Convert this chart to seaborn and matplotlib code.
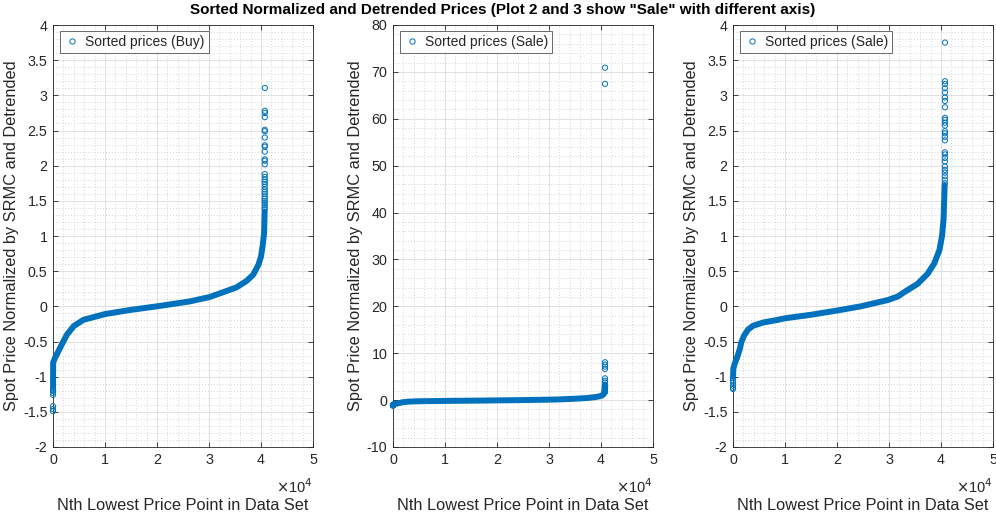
import numpy as np
import pandas as pd
import matplotlib
matplotlib.use("Agg")
import matplotlib.pyplot as plt
from matplotlib.lines import Line2D
from matplotlib.patches import Rectangle
from matplotlib.ticker import MultipleLocator, FuncFormatter
import seaborn as sns

# ---------------- data ----------------
# "Buy" sorted prices: anchor points of the dense sorted curve (rank, value)
buy_rank = [10, 30, 400, 1100, 1700, 2700, 4000, 5900, 8500, 10000, 15000,
            20000, 26300, 30000, 32700, 35300, 37200, 38500, 39500, 40000,
            40300, 40600, 40700]
buy_value = [-1.15, -0.80, -0.73, -0.63, -0.54, -0.40, -0.28, -0.19, -0.14,
             -0.11, -0.05, 0.0, 0.07, 0.13, 0.20, 0.27, 0.36, 0.45, 0.59,
             0.71, 0.85, 1.04, 1.35]
# individually visible points at both ends of the sorted "Buy" series
buy_low = [-1.49, -1.46, -1.42, -1.26, -1.23, -1.20, -1.18]
buy_high = [1.38, 1.41, 1.44, 1.47, 1.50, 1.53, 1.56, 1.60, 1.63, 1.66, 1.70,
            1.74, 1.77, 1.80, 1.84, 1.88, 2.02, 2.07, 2.09, 2.20, 2.27, 2.29,
            2.40, 2.49, 2.51, 2.69, 2.75, 2.78, 3.105]
buy_count = 40740

# "Sale" sorted prices
sale_rank = [10, 60, 300, 800, 1300, 1600, 2100, 2900, 3900, 5800, 8400,
             10000, 15000, 20000, 24600, 29800, 31700, 32900, 35500, 37400,
             38700, 39700, 40200, 40500, 40700]
sale_value = [-1.0, -0.89, -0.82, -0.725, -0.61, -0.51, -0.42, -0.33, -0.275,
              -0.23, -0.195, -0.17, -0.12, -0.06, 0.0, 0.09, 0.14, 0.20, 0.32,
              0.46, 0.61, 0.80, 1.0, 1.25, 1.72]
sale_low = [-1.175, -1.16, -1.13, -1.085, -1.05, -1.02]
sale_high = [1.75, 1.80, 1.85, 1.90, 1.94, 1.99, 2.06, 2.11, 2.16, 2.19, 2.36,
             2.41, 2.46, 2.49, 2.57, 2.61, 2.65, 2.68, 2.83, 2.92, 2.97, 3.04,
             3.10, 3.16, 3.20, 3.75, 4.14, 4.64, 6.64, 7.14, 7.57, 8.07,
             67.45, 70.9]
sale_count = 40780

x_tick_labels = ["0", "1", "2", "3", "4", "5"]
legend_labels = ["Sorted prices (Buy)", "Sorted prices (Sale)", "Sorted prices (Sale)"]
title = 'Sorted Normalized and Detrended Prices (Plot 2 and 3 show "Sale" with different axis)'
xlabel = "Nth Lowest Price Point in Data Set"
ylabel = "Spot Price Normalized by SRMC and Detrended"

# ---------------- style ----------------
sns.set_theme(style="white")
plt.rcParams["font.family"] = ["Liberation Sans", "DejaVu Sans"]
plt.rcParams["axes.unicode_minus"] = False
TXT = "#262626"
BLUE = "#0072BD"


def tails(low, high, count):
    lr = np.arange(len(low))
    hr = count - len(high) + np.arange(len(high))
    return pd.DataFrame({"rank": np.concatenate([lr, hr]),
                         "value": np.concatenate([low, high])})


buy_core = pd.DataFrame({"rank": buy_rank, "value": buy_value})
sale_core = pd.DataFrame({"rank": sale_rank, "value": sale_value})
buy_tail = tails(buy_low, buy_high, buy_count)
sale_tail = tails(sale_low, sale_high, sale_count)

fig = plt.figure(figsize=(9.96, 5.19), dpi=100)
W, H = 996, 519
lefts = [53, 393, 733]
ylab_x = [-0.129, -0.117, -0.129]
axes = []
for l in lefts:
    axes.append(fig.add_axes([l / W, (H - 447) / H, 260 / W, 422 / H]))

panels = [
    (buy_core, buy_tail, (-2, 4), 0.5, 0.1, legend_labels[0]),
    (sale_core, sale_tail, (-10, 80), 10, 2, legend_labels[1]),
    (sale_core, sale_tail, (-2, 4), 0.5, 0.1, legend_labels[2]),
]

for ax, yx, (core, tail, ylim, ymaj, ymin, lab) in zip(axes, ylab_x, panels):
    sns.lineplot(data=core, x="rank", y="value", ax=ax, color=BLUE,
                 linewidth=4.3, estimator=None, sort=True,
                 solid_capstyle="round", zorder=3)
    sns.scatterplot(data=tail, x="rank", y="value", ax=ax, color=BLUE,
                    marker="o", s=14, linewidth=0.7, zorder=4)
    for coll in ax.collections:
        coll.set_facecolor("none")
        coll.set_edgecolor(BLUE)

    # clip like MATLAB: markers centred on the left edge stay whole
    clip = Rectangle((-0.05, -0.004), 1.1, 1.008, transform=ax.transAxes,
                     facecolor="none", edgecolor="none")
    ax.add_patch(clip)
    for art in list(ax.collections) + list(ax.lines):
        art.set_clip_path(clip)

    ax.set_xlim(0, 50000)
    ax.set_ylim(*ylim)
    ax.xaxis.set_major_locator(MultipleLocator(10000))
    ax.xaxis.set_minor_locator(MultipleLocator(2000))
    ax.yaxis.set_major_locator(MultipleLocator(ymaj))
    ax.yaxis.set_minor_locator(MultipleLocator(ymin))
    ax.xaxis.set_major_formatter(FuncFormatter(
        lambda v, p: x_tick_labels[int(round(v / 10000))]
        if 0 <= round(v / 10000) < len(x_tick_labels) else ""))
    ax.yaxis.set_major_formatter(FuncFormatter(lambda v, p: "%g" % round(v, 6)))

    ax.grid(True, which="major", color="#dcdcdc", linewidth=0.6, linestyle="-")
    ax.grid(True, which="minor", color="#c8c8c8", linewidth=0.6, linestyle=(0, (1, 2.5)))
    ax.set_axisbelow(True)
    for s in ax.spines.values():
        s.set_visible(True)
        s.set_color(TXT)
        s.set_linewidth(0.6)
    ax.tick_params(which="major", direction="in", length=3.5, width=0.6,
                   top=True, right=True, bottom=True, left=True,
                   color=TXT, labelcolor=TXT, labelsize=10.3, pad=4)
    ax.tick_params(which="minor", length=0)

    ax.set_xlabel(xlabel, fontsize=11.8, color=TXT)
    ax.set_ylabel(ylabel, fontsize=11.8, color=TXT)
    ax.xaxis.set_label_coords(0.5, -0.12)
    ax.yaxis.set_label_coords(yx, 0.5)
    ax.text(1.0, -0.093, r"$\times$10$^{4}$", transform=ax.transAxes,
            ha="right", va="center", fontsize=10.5, color=TXT)

    handle = Line2D([], [], linestyle="none", marker="o", markersize=3.8,
                    markerfacecolor="none", markeredgecolor=BLUE,
                    markeredgewidth=0.7)
    leg = ax.legend([handle], [lab], loc="upper left",
                    bbox_to_anchor=(0.027, 0.986), borderaxespad=0,
                    fontsize=10, frameon=True, fancybox=False,
                    handlelength=1.1, handletextpad=0.4, borderpad=0.3)
    leg.get_frame().set_edgecolor(TXT)
    leg.get_frame().set_linewidth(0.6)
    for t in leg.get_texts():
        t.set_color(TXT)

fig.suptitle(title, x=0.505, y=0.995, va="top", fontsize=11, fontweight="bold",
             color="black")

fig.savefig("out.png", dpi=100, facecolor="white")
